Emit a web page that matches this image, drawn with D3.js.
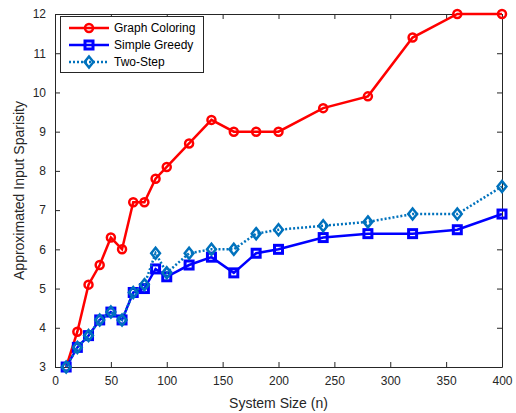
<!DOCTYPE html>
<html>
<head>
<meta charset="utf-8">
<script src="https://cdn.jsdelivr.net/npm/d3@7"></script>
<style>
  body { margin: 0; background: #fff; }
  text { font-family: 'Liberation Sans', Arial, sans-serif; }
</style>
</head>
<body>
<div id="chart"></div>
<script>
const systemSizes = [10, 20, 30, 40, 50, 60, 70, 80, 90, 100, 120, 140, 160, 180, 200, 240, 280, 320, 360, 400];
const graphColoring = [3.0, 3.9, 5.1, 5.6, 6.3, 6.0, 7.2, 7.2, 7.8, 8.1, 8.7, 9.3, 9.0, 9.0, 9.0, 9.6, 9.9, 11.4, 12, 12];
const simpleGreedy = [3.0, 3.5, 3.8, 4.2, 4.4, 4.2, 4.9, 5.0, 5.5, 5.3, 5.6, 5.8, 5.4, 5.9, 6.0, 6.3, 6.4, 6.4, 6.5, 6.9];
const twoStep = [3.0, 3.5, 3.8, 4.2, 4.4, 4.2, 4.9, 5.1, 5.9, 5.4, 5.9, 6.0, 6.0, 6.4, 6.5, 6.6, 6.7, 6.9, 6.9, 7.6];
const xTicks = [0, 50, 100, 150, 200, 250, 300, 350, 400];
const yTicks = [3, 4, 5, 6, 7, 8, 9, 10, 11, 12];

const config = {
  width: 516,
  height: 413,
  margin: { top: 14, right: 14, bottom: 46, left: 55 },
  axisColor: '#262626',
  tickLen: 5
};

const series = [
  { name: 'Graph Coloring', values: graphColoring, color: '#ff0000', marker: 'circle', dash: null, lineWidth: 2.5 },
  { name: 'Simple Greedy', values: simpleGreedy, color: '#0000ff', marker: 'square', dash: null, lineWidth: 2.5 },
  { name: 'Two-Step', values: twoStep, color: '#0072bd', marker: 'diamond', dash: '2,2', lineWidth: 2.5 }
];

const svg = d3.select('#chart').append('svg')
  .attr('width', config.width)
  .attr('height', config.height);

const x = d3.scaleLinear().domain([0, 400])
  .range([config.margin.left, config.width - config.margin.right]);
const y = d3.scaleLinear().domain([3, 12])
  .range([config.height - config.margin.bottom, config.margin.top]);

// axes (box on, ticks inward)
const axisBottomG = svg.append('g')
  .attr('transform', `translate(0,${y(3)})`)
  .call(d3.axisBottom(x).tickValues(xTicks).tickSizeInner(-config.tickLen).tickSizeOuter(0).tickPadding(9));
const axisLeftG = svg.append('g')
  .attr('transform', `translate(${x(0)},0)`)
  .call(d3.axisLeft(y).tickValues(yTicks).tickSizeInner(-config.tickLen).tickSizeOuter(0).tickPadding(9));
const axisTopG = svg.append('g')
  .attr('transform', `translate(0,${y(12)})`)
  .call(d3.axisTop(x).tickValues(xTicks).tickSizeInner(-config.tickLen).tickSizeOuter(0).tickFormat(''));
const axisRightG = svg.append('g')
  .attr('transform', `translate(${x(400)},0)`)
  .call(d3.axisRight(y).tickValues(yTicks).tickSizeInner(-config.tickLen).tickSizeOuter(0).tickFormat(''));

[axisBottomG, axisLeftG, axisTopG, axisRightG].forEach(g => {
  g.select('.domain').attr('stroke', config.axisColor).attr('stroke-width', 1);
  g.selectAll('.tick line').attr('stroke', config.axisColor);
  g.selectAll('.tick text').attr('fill', config.axisColor).style('font-size', '12px');
});

// series
const line = d3.line().x(d => x(d.x)).y(d => y(d.y));

function drawMarker(g, type, color, cx, cy) {
  if (type === 'circle') {
    g.append('circle').attr('cx', cx).attr('cy', cy).attr('r', 4)
      .attr('fill', 'none').attr('stroke', color).attr('stroke-width', 2.5);
  } else if (type === 'square') {
    g.append('rect').attr('x', cx - 4).attr('y', cy - 4).attr('width', 8).attr('height', 8)
      .attr('fill', 'none').attr('stroke', color).attr('stroke-width', 3);
  } else {
    const s = 5.5;
    g.append('path').attr('d', `M${cx},${cy - s}L${cx + s * 0.8},${cy}L${cx},${cy + s}L${cx - s * 0.8},${cy}Z`)
      .attr('fill', 'none').attr('stroke', color).attr('stroke-width', 2.5);
  }
}

for (const s of series) {
  const pts = systemSizes.map((v, i) => ({ x: v, y: s.values[i] }));
  const g = svg.append('g');
  g.append('path').datum(pts)
    .attr('d', line)
    .attr('fill', 'none')
    .attr('stroke', s.color)
    .attr('stroke-width', s.lineWidth)
    .attr('stroke-dasharray', s.dash);
  pts.forEach(p => drawMarker(g, s.marker, s.color, x(p.x), y(p.y)));
}

// legend
const legend = svg.append('g');
legend.append('rect')
  .attr('x', 60.5).attr('y', 16.5).attr('width', 143).attr('height', 56)
  .attr('fill', '#fff').attr('stroke', config.axisColor).attr('stroke-width', 1);
series.forEach((s, i) => {
  const ly = 28 + i * 17;
  legend.append('line')
    .attr('x1', 69).attr('x2', 109).attr('y1', ly).attr('y2', ly)
    .attr('stroke', s.color).attr('stroke-width', s.lineWidth)
    .attr('stroke-dasharray', s.dash);
  drawMarker(legend, s.marker, s.color, 89, ly);
  legend.append('text')
    .attr('x', 114).attr('y', ly).attr('dy', '0.35em')
    .style('font-size', '12px')
    .attr('fill', '#000')
    .text(s.name);
});

// axis titles
svg.append('text')
  .attr('text-anchor', 'middle')
  .attr('x', (x(0) + x(400)) / 2)
  .attr('y', 408)
  .style('font-size', '14px')
  .attr('fill', config.axisColor)
  .text('System Size (n)');

svg.append('text')
  .attr('text-anchor', 'middle')
  .attr('transform', `translate(24,${(y(3) + y(12)) / 2}) rotate(-90)`)
  .style('font-size', '14px')
  .attr('fill', config.axisColor)
  .text('Approximated Input Sparisity');
</script>
</body>
</html>
